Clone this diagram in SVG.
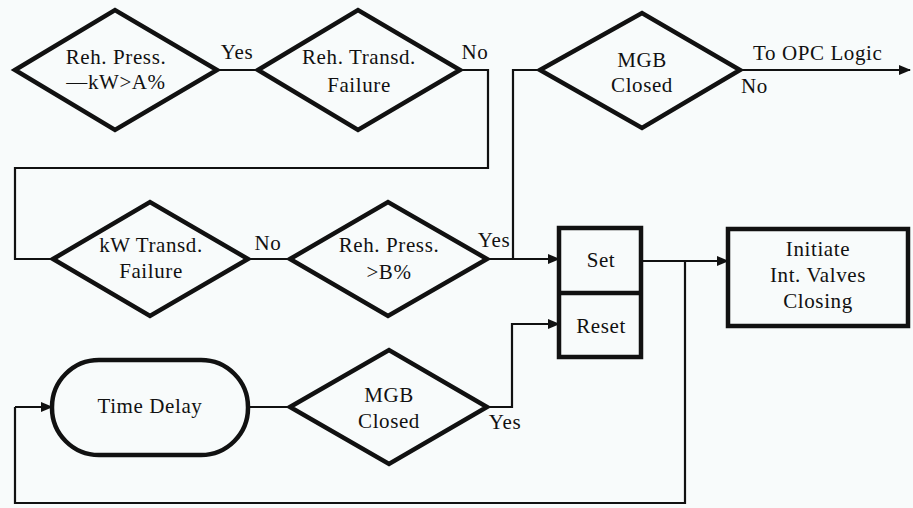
<svg xmlns="http://www.w3.org/2000/svg" width="913" height="508" viewBox="0 0 913 508">
<style>
.bg{fill:#f8fbfb}
.shape{fill:none;stroke:#111;stroke-width:4.5;stroke-linejoin:miter}
.box{fill:none;stroke:#111;stroke-width:4.5}
.conn{fill:none;stroke:#111;stroke-width:2.2}
text{font-family:'Liberation Serif','DejaVu Serif','Times New Roman',serif;font-size:21px;letter-spacing:0.6px;fill:#111;text-anchor:middle}
.lbl{text-anchor:start}
</style>
<defs>
<marker id="arr" markerWidth="12" markerHeight="10" refX="11" refY="5" orient="auto" markerUnits="userSpaceOnUse">
<path d="M0,0 L12,5 L0,10 Z" fill="#111"/>
</marker>
</defs>
<rect class="bg" x="0" y="0" width="913" height="508"/>
<g id="connectors">
<path class="conn" d="M217,70 H258"/>
<path class="conn" d="M460,70 H488 V168 H15 V259 H53"/>
<path class="conn" d="M248,259 H290"/>
<path class="conn" marker-end="url(#arr)" d="M487,259 H559"/>
<path class="conn" d="M513,259 V70 H540"/>
<path class="conn" marker-end="url(#arr)" d="M740,70 H910"/>
<path class="conn" marker-end="url(#arr)" d="M641,261 H728"/>
<path class="conn" d="M685,261 V503 H15 V407"/>
<path class="conn" marker-end="url(#arr)" d="M15,407 H52"/>
<path class="conn" d="M248,407 H290"/>
<path class="conn" marker-end="url(#arr)" d="M487,407 H512 V324 H559"/>
</g>
<g id="d1">
<polygon class="shape" points="15,70 115,10 217,70 115,130"/>
<text x="116" y="64">Reh. Press.</text>
<text x="116" y="89">—kW&gt;A%</text>
</g>
<g id="d2">
<polygon class="shape" points="258,70 358,10 460,70 358,130"/>
<text x="359" y="64">Reh. Transd.</text>
<text x="359" y="92">Failure</text>
</g>
<g id="d-mgb-top">
<polygon class="shape" points="540,70 642,13 740,70 642,128"/>
<text x="642" y="67">MGB</text>
<text x="642" y="92">Closed</text>
</g>
<g id="d3">
<polygon class="shape" points="53,259 150,202 248,259 150,316"/>
<text x="151" y="252">kW Transd.</text>
<text x="151" y="278">Failure</text>
</g>
<g id="d4">
<polygon class="shape" points="290,259 388,202 487,259 388,316"/>
<text x="389" y="252">Reh. Press.</text>
<text x="389" y="279">&gt;B%</text>
</g>
<g id="setreset">
<rect class="box" x="559" y="228" width="82" height="129"/>
<line class="box" x1="559" y1="293" x2="641" y2="293"/>
<text x="601" y="267">Set</text>
<text x="601" y="333">Reset</text>
</g>
<g id="initiate">
<rect class="box" x="728" y="229" width="180" height="97"/>
<text x="818" y="256">Initiate</text>
<text x="818" y="282">Int. Valves</text>
<text x="818" y="308">Closing</text>
</g>
<g id="timedelay">
<rect class="shape" x="52" y="360" width="196" height="95" rx="47" ry="47"/>
<text x="150" y="413">Time Delay</text>
</g>
<g id="d-mgb-bottom">
<polygon class="shape" points="290,407 389,350 487,407 389,464"/>
<text x="389" y="402">MGB</text>
<text x="389" y="428">Closed</text>
</g>
<g id="labels">
<text x="237" y="59">Yes</text>
<text x="475" y="59">No</text>
<text class="lbl" x="753" y="60">To OPC Logic</text>
<text class="lbl" x="741" y="93">No</text>
<text x="268" y="250">No</text>
<text x="494" y="247">Yes</text>
<text x="505" y="429">Yes</text>
</g>
</svg>
